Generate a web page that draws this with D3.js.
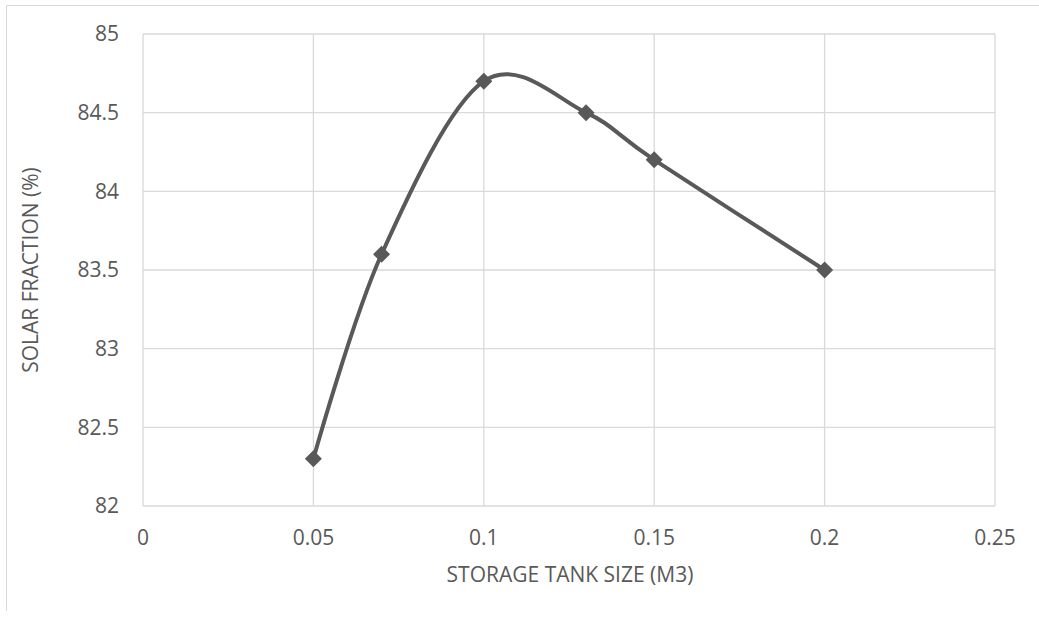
<!DOCTYPE html>
<html>
<head>
<meta charset="utf-8">
<script src="https://cdn.jsdelivr.net/npm/d3@7"></script>
<style>
  body { margin: 0; background: #fff; }
  text { font-family: "Open Sans", sans-serif; fill: #595959; }
</style>
</head>
<body>
<div id="chart"></div>
<script>
// tank size (m3) vs solar fraction (%)
const tankSize = [0.05, 0.07, 0.1, 0.13, 0.15, 0.2];
const solarFraction = [82.3, 83.6, 84.7, 84.5, 84.2, 83.5];
const xTicks = [0, 0.05, 0.1, 0.15, 0.2, 0.25];
const yTicks = [82, 82.5, 83, 83.5, 84, 84.5, 85];

const width = 1039, height = 618;
const plot = {left: 143, right: 995, top: 34, bottom: 506};

const svg = d3.select("#chart").append("svg")
    .attr("width", width)
    .attr("height", height);

// chart border (only top and left visible)
svg.append("line").attr("x1", 6.5).attr("x2", width).attr("y1", 5.5).attr("y2", 5.5)
    .attr("stroke", "#d9d9d9");
svg.append("line").attr("x1", 6.5).attr("x2", 6.5).attr("y1", 5.5).attr("y2", 611)
    .attr("stroke", "#d9d9d9");

const x = d3.scaleLinear().domain([0, 0.25]).range([plot.left, plot.right]);
const y = d3.scaleLinear().domain([82, 85]).range([plot.bottom, plot.top]);

// gridlines
svg.append("g")
    .attr("stroke", "#d9d9d9")
    .attr("stroke-width", 1.3)
  .selectAll("line.v")
  .data(xTicks)
  .join("line")
    .attr("x1", d => x(d)).attr("x2", d => x(d))
    .attr("y1", plot.top).attr("y2", plot.bottom);

svg.append("g")
    .attr("stroke", "#d9d9d9")
    .attr("stroke-width", 1.3)
  .selectAll("line.h")
  .data(yTicks)
  .join("line")
    .attr("x1", plot.left).attr("x2", plot.right)
    .attr("y1", d => y(d)).attr("y2", d => y(d));

// tick labels
svg.append("g")
  .selectAll("text")
  .data(yTicks)
  .join("text")
    .attr("x", 119)
    .attr("y", d => y(d))
    .attr("dy", "0.35em")
    .attr("text-anchor", "end")
    .attr("font-size", 21)
    .text(d => d);

svg.append("g")
  .selectAll("text")
  .data(xTicks)
  .join("text")
    .attr("x", d => x(d))
    .attr("y", 538)
    .attr("dy", "0.35em")
    .attr("text-anchor", "middle")
    .attr("font-size", 21)
    .text(d => d);

// axis titles
svg.append("text")
    .attr("x", 570)
    .attr("y", 575)
    .attr("dy", "0.35em")
    .attr("text-anchor", "middle")
    .attr("font-size", 21)
    .text("STORAGE TANK SIZE (M3)");

svg.append("text")
    .attr("transform", `translate(31,${(plot.top + plot.bottom) / 2}) rotate(-90)`)
    .attr("dy", "0.35em")
    .attr("text-anchor", "middle")
    .attr("font-size", 21)
    .text("SOLAR FRACTION (%)");

// smoothed line
const points = tankSize.map((d, i) => [d, solarFraction[i]]);
const line = d3.line()
    .x(d => x(d[0]))
    .y(d => y(d[1]))
    .curve(d3.curveCardinal.tension(0));

svg.append("path")
    .datum(points)
    .attr("d", line)
    .attr("fill", "none")
    .attr("stroke", "#595959")
    .attr("stroke-width", 4)
    .attr("stroke-linecap", "round");

// diamond markers
svg.append("g")
    .attr("fill", "#595959")
  .selectAll("path")
  .data(points)
  .join("path")
    .attr("transform", d => `translate(${x(d[0])},${y(d[1])})`)
    .attr("d", "M0,-8.5L8.5,0L0,8.5L-8.5,0Z");
</script>
</body>
</html>
